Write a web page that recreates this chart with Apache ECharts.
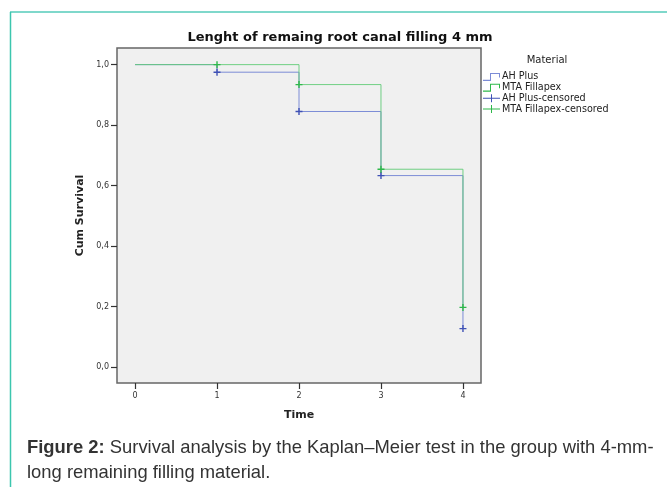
<!DOCTYPE html>
<html>
<head>
<meta charset="utf-8">
<script src="https://cdn.jsdelivr.net/npm/echarts@6/dist/echarts.min.js"></script>
<style>html,body{margin:0;padding:0;background:#fff}#c{width:667px;height:487px}</style>
</head>
<body>
<div id="c"></div>
<script>
// ---- data ----
const times = [0, 1, 2, 3, 4];
const ahPlus = [1.0, 0.975, 0.845, 0.633, 0.127];
const mtaFillapex = [1.0, 1.0, 0.934, 0.654, 0.197];
const ahCensoredTimes = [1, 2, 3, 4];
const ahCensored = [0.975, 0.845, 0.633, 0.127];
const mtaCensoredTimes = [1, 2, 3, 4];
const mtaCensored = [1.0, 0.934, 0.654, 0.197];
const xTicks = [0, 1, 2, 3, 4];
const yTicks = [0, 0.2, 0.4, 0.6, 0.8, 1.0];
const seriesNames = ['AH Plus', 'MTA Fillapex', 'AH Plus-censored', 'MTA Fillapex-censored'];

const blueLine = '#7c8cd6', greenLine = '#62cc78';
const blueMark = '#3f51b5', greenMark = '#2eb84a';
const plus = 'path://M4,0 H6 V4 H10 V6 H6 V10 H4 V6 H0 V4 H4 Z';
const stepIcon = 'path://M0,7 H7 V1 H17 V5 H16 V2 H8 V8 H0 Z';
const censIcon = 'path://M0,3.5 H17 V4.5 H0 Z M8,0 H9 V8 H8 Z';
const zip = (xs, ys) => xs.map((x, i) => [x, ys[i]]);

const chart = echarts.init(document.getElementById('c'), null, {renderer: 'canvas'});
const font = 'DejaVu Sans';
chart.setOption({
  animation: false,
  backgroundColor: '#fff',
  textStyle: {fontFamily: font},
  grid: {left: 117, right: 186, top: 48, bottom: 104, show: true,
         backgroundColor: '#f0f0f0', borderColor: '#666', borderWidth: 1.5},
  xAxis: {
    type: 'value', min: -0.22, max: 4.22,
    name: 'Time', nameLocation: 'middle', nameGap: 27,
    nameTextStyle: {fontFamily: font, fontWeight: 'bold', fontSize: 11, color: '#222'},
    axisLine: {show: false, onZero: false}, splitLine: {show: false},
    axisTick: {show: true, inside: false, length: 6, lineStyle: {color: '#333', width: 1.2}, customValues: xTicks},
    axisLabel: {margin: 9, fontSize: 8, color: '#333', customValues: xTicks, formatter: v => String(v)}
  },
  yAxis: {
    type: 'value', min: -0.053, max: 1.055,
    name: 'Cum Survival', nameLocation: 'middle', nameGap: 31, nameRotate: 90,
    nameTextStyle: {fontFamily: font, fontWeight: 'bold', fontSize: 11, color: '#222'},
    axisLine: {show: false, onZero: false}, splitLine: {show: false},
    axisTick: {show: true, inside: false, length: 6, lineStyle: {color: '#333', width: 1.2}, customValues: yTicks},
    axisLabel: {margin: 8, fontSize: 8, color: '#333', customValues: yTicks,
                formatter: v => v.toFixed(1).replace('.', ',')}
  },
  legend: {
    orient: 'vertical', left: 483, top: 71.6, padding: 0,
    itemWidth: 17, itemHeight: 8, itemGap: 0, symbolKeepAspect: false,
    textStyle: {fontFamily: font, fontSize: 9.6, lineHeight: 10.7, color: '#222', padding: [0, 0, 0, -3]},
    data: [
      {name: seriesNames[0], icon: stepIcon, itemStyle: {color: blueLine}},
      {name: seriesNames[1], icon: stepIcon, itemStyle: {color: greenMark}},
      {name: seriesNames[2], icon: censIcon, itemStyle: {color: blueMark}},
      {name: seriesNames[3], icon: censIcon, itemStyle: {color: greenMark}}
    ]
  },
  series: [
    {name: seriesNames[0], type: 'line', step: 'end', showSymbol: false, z: 2,
     data: zip(times, ahPlus), lineStyle: {color: blueLine, width: 1}, itemStyle: {color: blueLine}},
    {name: seriesNames[1], type: 'line', step: 'end', showSymbol: false, z: 3,
     data: zip(times, mtaFillapex), lineStyle: {color: greenLine, width: 1, opacity: 0.9}, itemStyle: {color: greenLine}},
    {name: seriesNames[2], type: 'scatter', symbol: plus, symbolSize: 7, z: 4,
     data: zip(ahCensoredTimes, ahCensored), itemStyle: {color: blueMark, opacity: 1}},
    {name: seriesNames[3], type: 'scatter', symbol: plus, symbolSize: 7, z: 5,
     data: zip(mtaCensoredTimes, mtaCensored), itemStyle: {color: greenMark, opacity: 1}}
  ],
  graphic: [
    {type: 'line', shape: {x1: 10, y1: 12, x2: 667, y2: 12}, style: {stroke: '#7fd8cb', lineWidth: 2}},
    {type: 'line', shape: {x1: 10.5, y1: 12, x2: 10.5, y2: 487}, style: {stroke: '#3cc6ae', lineWidth: 1.5}},
    {type: 'text', x: 340, y: 38, style: {text: 'Lenght of remaing root canal filling 4 mm',
      font: 'bold 13px "DejaVu Sans"', fill: '#111', align: 'center', verticalAlign: 'middle'}},
    {type: 'text', x: 547, y: 60, style: {text: 'Material',
      font: '10px "DejaVu Sans"', fill: '#222', align: 'center', verticalAlign: 'middle'}},
    {type: 'text', x: 27, y: 448, style: {
      text: '{b|Figure 2:} Survival analysis by the Kaplan\u2013Meier test in the group with 4-mm-',
      font: '18.4px "Liberation Sans"', fill: '#333', verticalAlign: 'middle',
      rich: {b: {font: 'bold 18.4px "Liberation Sans"', fill: '#333'}}}},
    {type: 'text', x: 27, y: 473, style: {text: 'long remaining filling material.',
      font: '18.4px "Liberation Sans"', fill: '#333', verticalAlign: 'middle'}}
  ]
});
</script>
</body>
</html>
